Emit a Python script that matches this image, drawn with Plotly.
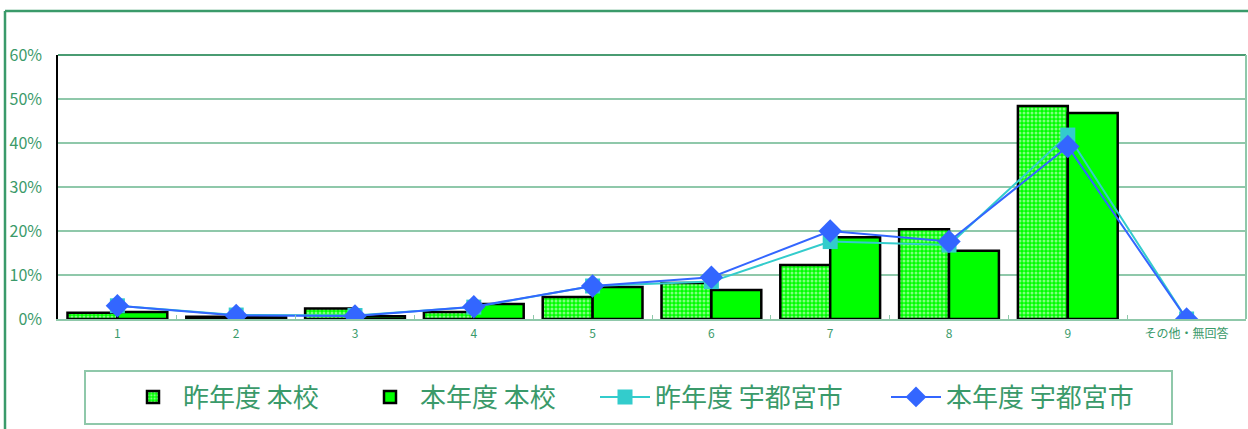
import plotly.graph_objects as go

categories = ["1", "2", "3", "4", "5", "6", "7", "8", "9", "その他・無回答"]
school_last = [1.4, 0.5, 2.4, 1.6, 5.0, 8.2, 12.3, 20.4, 48.4, 0.0]
school_this = [1.6, 0.5, 0.6, 3.4, 7.3, 6.6, 18.6, 15.5, 46.8, 0.0]
city_last = [3.0, 0.9, 0.8, 2.7, 7.5, 8.5, 17.6, 16.8, 41.8, 0.0]
city_this = [3.0, 0.8, 0.7, 2.8, 7.5, 9.5, 20.0, 17.6, 39.2, 0.0]
names = ["昨年度 本校", "本年度 本校", "昨年度 宇都宮市", "本年度 宇都宮市"]
yticks = [0, 10, 20, 30, 40, 50, 60]

GREEN_TXT = "#3a9a6a"
GRID = "#8fc8aa"
FONT = "Noto Sans CJK JP"

bar_lw = [0 if v == 0 else 2.5 for v in school_last]
bar_lw2 = [0 if v == 0 else 2.5 for v in school_this]

fig = go.Figure()
fig.add_trace(go.Bar(
    x=categories, y=school_last, name=names[0], legend="legend",
    marker=dict(color="#00ff00", line=dict(color="black", width=bar_lw),
                pattern=dict(shape=".", fgcolor="white", size=4, solidity=0.45)),
))
fig.add_trace(go.Bar(
    x=categories, y=school_this, name=names[1], legend="legend2",
    marker=dict(color="#00ff00", line=dict(color="black", width=bar_lw2)),
))
fig.add_trace(go.Scatter(
    x=categories, y=city_last, name=names[2], mode="lines+markers", legend="legend3",
    line=dict(color="#33cccc", width=2),
    marker=dict(symbol="square", size=15, color="#33cccc"),
))
fig.add_trace(go.Scatter(
    x=categories, y=city_this, name=names[3], mode="lines+markers", legend="legend4",
    line=dict(color="#3366ff", width=2),
    marker=dict(symbol="diamond", size=18, color="#3366ff"),
))

W, H = 1248, 429
L, R, T, B = 58, 2, 55, 110
pw, ph = W - L - R, H - T - B

def px_x(x):
    return (x - L) / pw

def px_y(y):
    return (H - B - y) / ph

shapes = [
    dict(type="line", xref="paper", yref="paper", x0=px_x(5), x1=px_x(1250), y0=px_y(11), y1=px_y(11),
         line=dict(color="#3a9a6a", width=2.5)),
    dict(type="line", xref="paper", yref="paper", x0=px_x(5), x1=px_x(5), y0=px_y(11), y1=px_y(432),
         line=dict(color="#3a9a6a", width=2.5)),
    dict(type="line", xref="paper", yref="paper", x0=0, x1=1, y0=1, y1=1,
         line=dict(color="#4a9c72", width=2)),
    dict(type="line", xref="paper", yref="paper", x0=1, x1=1, y0=0, y1=1,
         line=dict(color=GRID, width=2)),
    dict(type="rect", xref="paper", yref="paper", x0=px_x(85), x1=px_x(1172), y0=px_y(371), y1=px_y(424),
         line=dict(color=GRID, width=2)),
]

leg_x = [123, 360, 595, 886]

def leg(xp):
    return dict(orientation="h", x=px_x(xp), xanchor="left", y=px_y(397), yanchor="middle",
                borderwidth=0, bgcolor="rgba(0,0,0,0)", font=dict(size=26, color=GREEN_TXT),
                itemwidth=50)

fig.update_layout(
    width=W, height=H,
    margin=dict(l=L, r=R, t=T, b=B, autoexpand=False),
    paper_bgcolor="white", plot_bgcolor="white",
    barmode="group", bargap=0.16, bargroupgap=0,
    font=dict(family=FONT, color=GREEN_TXT),
    showlegend=True,
    legend=leg(leg_x[0]), legend2=leg(leg_x[1]), legend3=leg(leg_x[2]), legend4=leg(leg_x[3]),
    shapes=shapes,
    xaxis=dict(type="category", range=[-0.5, len(categories) - 0.5],
               showgrid=False, showline=True, linecolor=GRID, linewidth=2,
               ticks="inside", tickson="boundaries", ticklen=4, tickcolor=GRID,
               tickfont=dict(size=12, color=GREEN_TXT, family=FONT), automargin=False,
               ticklabelstandoff=3),
    yaxis=dict(range=[0, 60], tickvals=yticks, ticktext=[f"{v}%" for v in yticks],
               showgrid=True, gridcolor=GRID, gridwidth=1.5, zeroline=False,
               showline=True, linecolor="black", linewidth=1.5,
               tickfont=dict(size=16, color=GREEN_TXT, family=FONT),
               ticklabelstandoff=11, automargin=False),
)

fig.write_html("out.html", config={"displayModeBar": False},
               post_script="document.body.style.margin='0';document.body.style.overflow='hidden';")
